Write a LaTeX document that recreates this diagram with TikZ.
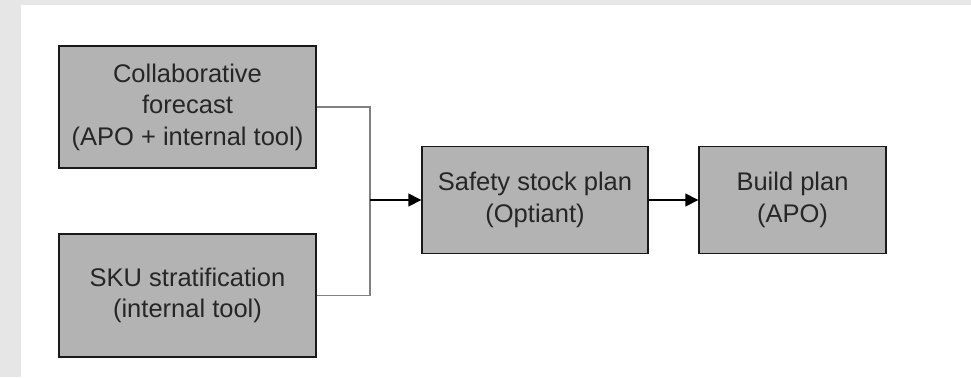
\documentclass[tikz,border=0pt]{standalone}
\usepackage{fontspec}
\setmainfont{Liberation Sans}
\usetikzlibrary{arrows.meta}
\definecolor{boxgray}{RGB}{179,179,179}
\definecolor{bggray}{RGB}{230,230,230}
\definecolor{linegray}{RGB}{128,128,128}
\begin{document}
\begin{tikzpicture}[x=1bp,y=-1bp,
  stagebox/.style={draw=black!90,line width=1.4bp,fill=boxgray,inner sep=0pt,
    align=center,font=\fontsize{25.5bp}{31.5bp}\selectfont,text=black!85},
  feed/.style={draw=linegray,line width=1.8bp},
  flow/.style={draw=black,line width=1.5bp,-{Triangle[length=13bp,width=13bp]}}]
\fill[bggray] (0,0) rectangle (971,377);
\fill[white] (21,5) rectangle (971,377);
\useasboundingbox (0,0) rectangle (971,377);
\node[stagebox,minimum width=257bp,minimum height=122bp] (b1) at (187.5,107) {Collaborative\\forecast\\(APO + internal tool)};
\node[stagebox,minimum width=257bp,minimum height=123bp] (b2) at (187.5,295.5) {SKU stratification\\(internal tool)};
\node[stagebox,minimum width=226bp,minimum height=107bp] (b3) at (535,200) {Safety stock plan\\(Optiant)};
\node[stagebox,minimum width=187bp,minimum height=107bp] (b4) at (792.5,200) {Build plan\\(APO)};
\coordinate (j) at (370,200);
\draw[feed] (b1.east) -| (j);
\draw[feed] (b2.east) -| (j);
\draw[flow] (j) -- (b3.west);
\draw[flow] (b3.east) -- (b4.west);
\end{tikzpicture}
\end{document}
